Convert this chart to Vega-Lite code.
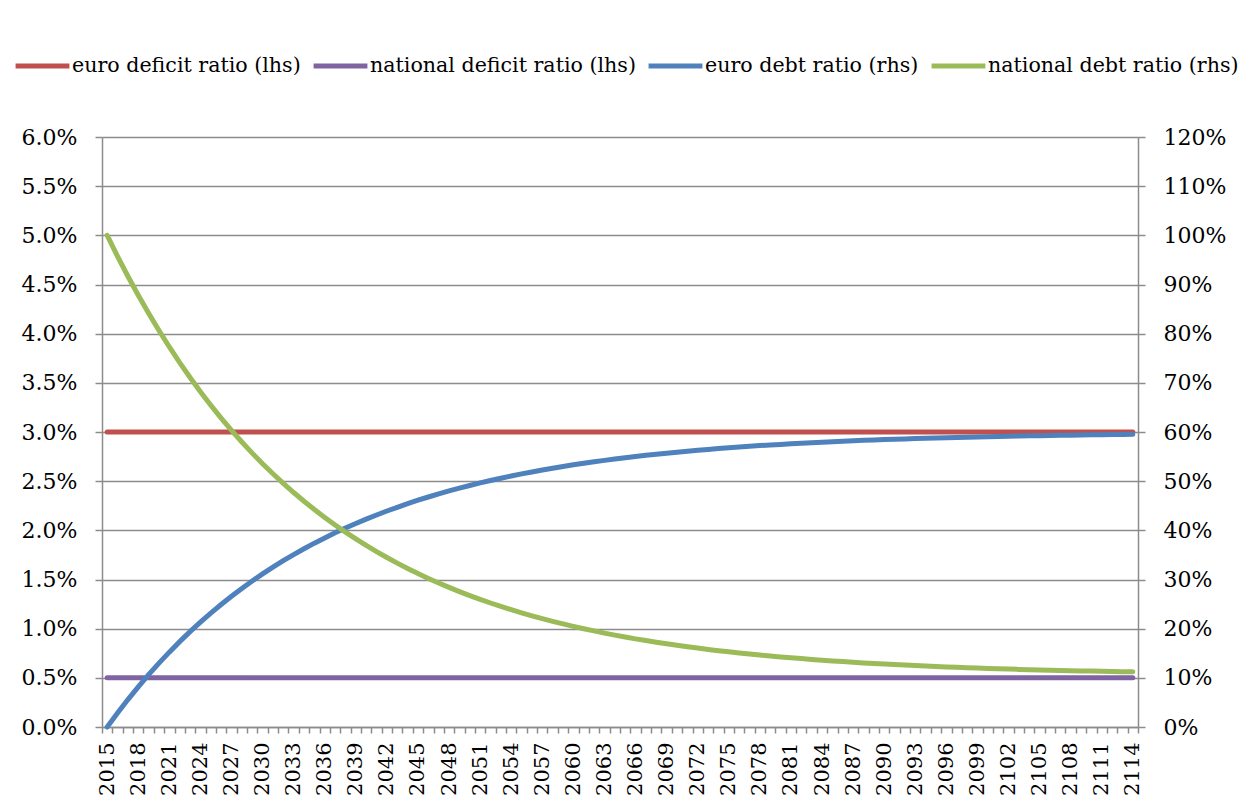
{
  "$schema": "https://vega.github.io/schema/vega-lite/v6.json",
  "width": 1036,
  "height": 590,
  "autosize": {"type": "none"},
  "padding": {"left": 102, "top": 137, "right": 117, "bottom": 84},
  "background": "white",
  "config": {
    "view": {"stroke": null},
    "font": "DejaVu Serif",
    "axis": {
      "labelFont": "DejaVu Serif",
      "labelFontSize": 22,
      "labelColor": "black",
      "domainColor": "#8c8c8c",
      "domainWidth": 1.5,
      "tickColor": "#8c8c8c",
      "tickWidth": 1.5,
      "gridColor": "#8c8c8c",
      "gridWidth": 1.5,
      "title": null
    },
    "legend": {
      "labelFont": "DejaVu Serif"
    }
  },
  "data": {"values": [
    {"year":2015,"ed":0.03,"nd":0.005,"eb":0,"nb":1},
    {"year":2016,"ed":0.03,"nd":0.005,"eb":0.0286,"nb":0.9574},
    {"year":2017,"ed":0.03,"nd":0.005,"eb":0.0558,"nb":0.9168},
    {"year":2018,"ed":0.03,"nd":0.005,"eb":0.0817,"nb":0.8781},
    {"year":2019,"ed":0.03,"nd":0.005,"eb":0.1064,"nb":0.8413},
    {"year":2020,"ed":0.03,"nd":0.005,"eb":0.1299,"nb":0.8063},
    {"year":2021,"ed":0.03,"nd":0.005,"eb":0.1523,"nb":0.7729},
    {"year":2022,"ed":0.03,"nd":0.005,"eb":0.1736,"nb":0.7411},
    {"year":2023,"ed":0.03,"nd":0.005,"eb":0.1939,"nb":0.7108},
    {"year":2024,"ed":0.03,"nd":0.005,"eb":0.2132,"nb":0.6819},
    {"year":2025,"ed":0.03,"nd":0.005,"eb":0.2317,"nb":0.6545},
    {"year":2026,"ed":0.03,"nd":0.005,"eb":0.2492,"nb":0.6283},
    {"year":2027,"ed":0.03,"nd":0.005,"eb":0.2659,"nb":0.6034},
    {"year":2028,"ed":0.03,"nd":0.005,"eb":0.2818,"nb":0.5796},
    {"year":2029,"ed":0.03,"nd":0.005,"eb":0.2970,"nb":0.5570},
    {"year":2030,"ed":0.03,"nd":0.005,"eb":0.3114,"nb":0.5355},
    {"year":2031,"ed":0.03,"nd":0.005,"eb":0.3251,"nb":0.5150},
    {"year":2032,"ed":0.03,"nd":0.005,"eb":0.3382,"nb":0.4955},
    {"year":2033,"ed":0.03,"nd":0.005,"eb":0.3507,"nb":0.4769},
    {"year":2034,"ed":0.03,"nd":0.005,"eb":0.3626,"nb":0.4592},
    {"year":2035,"ed":0.03,"nd":0.005,"eb":0.3739,"nb":0.4423},
    {"year":2036,"ed":0.03,"nd":0.005,"eb":0.3846,"nb":0.4263},
    {"year":2037,"ed":0.03,"nd":0.005,"eb":0.3949,"nb":0.4110},
    {"year":2038,"ed":0.03,"nd":0.005,"eb":0.4047,"nb":0.3964},
    {"year":2039,"ed":0.03,"nd":0.005,"eb":0.4140,"nb":0.3825},
    {"year":2040,"ed":0.03,"nd":0.005,"eb":0.4228,"nb":0.3693},
    {"year":2041,"ed":0.03,"nd":0.005,"eb":0.4313,"nb":0.3567},
    {"year":2042,"ed":0.03,"nd":0.005,"eb":0.4393,"nb":0.3447},
    {"year":2043,"ed":0.03,"nd":0.005,"eb":0.4469,"nb":0.3333},
    {"year":2044,"ed":0.03,"nd":0.005,"eb":0.4542,"nb":0.3224},
    {"year":2045,"ed":0.03,"nd":0.005,"eb":0.4612,"nb":0.3121},
    {"year":2046,"ed":0.03,"nd":0.005,"eb":0.4678,"nb":0.3022},
    {"year":2047,"ed":0.03,"nd":0.005,"eb":0.4741,"nb":0.2928},
    {"year":2048,"ed":0.03,"nd":0.005,"eb":0.4801,"nb":0.2839},
    {"year":2049,"ed":0.03,"nd":0.005,"eb":0.4858,"nb":0.2754},
    {"year":2050,"ed":0.03,"nd":0.005,"eb":0.4912,"nb":0.2673},
    {"year":2051,"ed":0.03,"nd":0.005,"eb":0.4964,"nb":0.2595},
    {"year":2052,"ed":0.03,"nd":0.005,"eb":0.5013,"nb":0.2522},
    {"year":2053,"ed":0.03,"nd":0.005,"eb":0.5060,"nb":0.2452},
    {"year":2054,"ed":0.03,"nd":0.005,"eb":0.5105,"nb":0.2385},
    {"year":2055,"ed":0.03,"nd":0.005,"eb":0.5148,"nb":0.2321},
    {"year":2056,"ed":0.03,"nd":0.005,"eb":0.5188,"nb":0.2261},
    {"year":2057,"ed":0.03,"nd":0.005,"eb":0.5227,"nb":0.2203},
    {"year":2058,"ed":0.03,"nd":0.005,"eb":0.5264,"nb":0.2148},
    {"year":2059,"ed":0.03,"nd":0.005,"eb":0.5299,"nb":0.2096},
    {"year":2060,"ed":0.03,"nd":0.005,"eb":0.5332,"nb":0.2046},
    {"year":2061,"ed":0.03,"nd":0.005,"eb":0.5364,"nb":0.1999},
    {"year":2062,"ed":0.03,"nd":0.005,"eb":0.5394,"nb":0.1954},
    {"year":2063,"ed":0.03,"nd":0.005,"eb":0.5423,"nb":0.1910},
    {"year":2064,"ed":0.03,"nd":0.005,"eb":0.5451,"nb":0.1869},
    {"year":2065,"ed":0.03,"nd":0.005,"eb":0.5477,"nb":0.1830},
    {"year":2066,"ed":0.03,"nd":0.005,"eb":0.5502,"nb":0.1793},
    {"year":2067,"ed":0.03,"nd":0.005,"eb":0.5525,"nb":0.1758},
    {"year":2068,"ed":0.03,"nd":0.005,"eb":0.5548,"nb":0.1724},
    {"year":2069,"ed":0.03,"nd":0.005,"eb":0.5570,"nb":0.1692},
    {"year":2070,"ed":0.03,"nd":0.005,"eb":0.5590,"nb":0.1662},
    {"year":2071,"ed":0.03,"nd":0.005,"eb":0.5610,"nb":0.1632},
    {"year":2072,"ed":0.03,"nd":0.005,"eb":0.5628,"nb":0.1605},
    {"year":2073,"ed":0.03,"nd":0.005,"eb":0.5646,"nb":0.1578},
    {"year":2074,"ed":0.03,"nd":0.005,"eb":0.5663,"nb":0.1553},
    {"year":2075,"ed":0.03,"nd":0.005,"eb":0.5679,"nb":0.1529},
    {"year":2076,"ed":0.03,"nd":0.005,"eb":0.5694,"nb":0.1506},
    {"year":2077,"ed":0.03,"nd":0.005,"eb":0.5709,"nb":0.1485},
    {"year":2078,"ed":0.03,"nd":0.005,"eb":0.5723,"nb":0.1464},
    {"year":2079,"ed":0.03,"nd":0.005,"eb":0.5736,"nb":0.1444},
    {"year":2080,"ed":0.03,"nd":0.005,"eb":0.5748,"nb":0.1425},
    {"year":2081,"ed":0.03,"nd":0.005,"eb":0.5760,"nb":0.1408},
    {"year":2082,"ed":0.03,"nd":0.005,"eb":0.5772,"nb":0.1391},
    {"year":2083,"ed":0.03,"nd":0.005,"eb":0.5783,"nb":0.1374},
    {"year":2084,"ed":0.03,"nd":0.005,"eb":0.5793,"nb":0.1359},
    {"year":2085,"ed":0.03,"nd":0.005,"eb":0.5803,"nb":0.1344},
    {"year":2086,"ed":0.03,"nd":0.005,"eb":0.5812,"nb":0.1330},
    {"year":2087,"ed":0.03,"nd":0.005,"eb":0.5821,"nb":0.1317},
    {"year":2088,"ed":0.03,"nd":0.005,"eb":0.5830,"nb":0.1304},
    {"year":2089,"ed":0.03,"nd":0.005,"eb":0.5838,"nb":0.1292},
    {"year":2090,"ed":0.03,"nd":0.005,"eb":0.5846,"nb":0.1280},
    {"year":2091,"ed":0.03,"nd":0.005,"eb":0.5853,"nb":0.1270},
    {"year":2092,"ed":0.03,"nd":0.005,"eb":0.5860,"nb":0.1259},
    {"year":2093,"ed":0.03,"nd":0.005,"eb":0.5867,"nb":0.1249},
    {"year":2094,"ed":0.03,"nd":0.005,"eb":0.5873,"nb":0.1240},
    {"year":2095,"ed":0.03,"nd":0.005,"eb":0.5879,"nb":0.1231},
    {"year":2096,"ed":0.03,"nd":0.005,"eb":0.5885,"nb":0.1222},
    {"year":2097,"ed":0.03,"nd":0.005,"eb":0.5890,"nb":0.1214},
    {"year":2098,"ed":0.03,"nd":0.005,"eb":0.5895,"nb":0.1206},
    {"year":2099,"ed":0.03,"nd":0.005,"eb":0.5900,"nb":0.1199},
    {"year":2100,"ed":0.03,"nd":0.005,"eb":0.5905,"nb":0.1192},
    {"year":2101,"ed":0.03,"nd":0.005,"eb":0.5910,"nb":0.1185},
    {"year":2102,"ed":0.03,"nd":0.005,"eb":0.5914,"nb":0.1178},
    {"year":2103,"ed":0.03,"nd":0.005,"eb":0.5918,"nb":0.1172},
    {"year":2104,"ed":0.03,"nd":0.005,"eb":0.5922,"nb":0.1166},
    {"year":2105,"ed":0.03,"nd":0.005,"eb":0.5926,"nb":0.1161},
    {"year":2106,"ed":0.03,"nd":0.005,"eb":0.5929,"nb":0.1156},
    {"year":2107,"ed":0.03,"nd":0.005,"eb":0.5933,"nb":0.1151},
    {"year":2108,"ed":0.03,"nd":0.005,"eb":0.5936,"nb":0.1146},
    {"year":2109,"ed":0.03,"nd":0.005,"eb":0.5939,"nb":0.1141},
    {"year":2110,"ed":0.03,"nd":0.005,"eb":0.5942,"nb":0.1137},
    {"year":2111,"ed":0.03,"nd":0.005,"eb":0.5945,"nb":0.1133},
    {"year":2112,"ed":0.03,"nd":0.005,"eb":0.5947,"nb":0.1129},
    {"year":2113,"ed":0.03,"nd":0.005,"eb":0.5950,"nb":0.1125},
    {"year":2114,"ed":0.03,"nd":0.005,"eb":0.5952,"nb":0.1122}
  ]},
  "encoding": {
    "x": {
      "field": "year",
      "type": "ordinal",
      "bandPosition": 0.5,
      "scale": {"type": "band", "paddingInner": 0, "paddingOuter": 0},
      "axis": {
        "tickBand": "extent",
        "tickSize": 6,
        "labelAngle": -90,
        "labelFontSize": 21,
        "labelPadding": 9,
        "labelExpr": "(datum.value - 2015) % 3 == 0 ? datum.label : ''",
        "grid": false
      }
    }
  },
  "layer": [
    {
      "transform": [{"fold": ["ed", "nd"], "as": ["series", "value"]}],
      "mark": {"type": "line", "strokeWidth": 5, "strokeCap": "round"},
      "encoding": {
        "y": {
          "field": "value",
          "type": "quantitative",
          "scale": {"domain": [0, 0.06], "nice": false},
          "axis": {
            "orient": "left",
            "format": ".1%",
            "values": [0, 0.005, 0.01, 0.015, 0.02, 0.025, 0.03, 0.035, 0.04, 0.045, 0.05, 0.055, 0.06],
            "grid": true,
            "tickSize": 7,
            "labelPadding": 18
          }
        },
        "color": {
          "field": "series",
          "type": "nominal",
          "scale": {"domain": ["ed", "nd", "eb", "nb"], "range": ["#C0504D", "#8064A2", "#4F81BD", "#9BBB59"]},
          "legend": {
            "orient": "none",
            "legendX": -89,
            "legendY": -101,
            "direction": "horizontal",
            "columns": 4,
            "title": null,
            "symbolType": "stroke",
            "symbolSize": 2900,
            "symbolStrokeWidth": 5,
            "labelFontSize": 20.6,
            "labelColor": "black",
            "labelOffset": 0,
            "columnPadding": 2,
            "labelLimit": 0,
            "labelExpr": "{'ed': 'euro deficit ratio (lhs)', 'nd': 'national deficit ratio (lhs)', 'eb': 'euro debt ratio (rhs)', 'nb': 'national debt ratio (rhs)'}[datum.label]"
          }
        }
      }
    },
    {
      "transform": [{"fold": ["eb", "nb"], "as": ["series", "value"]}],
      "mark": {"type": "line", "strokeWidth": 5, "strokeCap": "round"},
      "encoding": {
        "y": {
          "field": "value",
          "type": "quantitative",
          "scale": {"domain": [0, 1.2], "nice": false},
          "axis": {
            "orient": "right",
            "format": ".0%",
            "values": [0, 0.1, 0.2, 0.3, 0.4, 0.5, 0.6, 0.7, 0.8, 0.9, 1.0, 1.1, 1.2],
            "grid": false,
            "tickSize": 7,
            "labelPadding": 18
          }
        },
        "color": {"field": "series", "type": "nominal"}
      }
    }
  ],
  "resolve": {"scale": {"y": "independent"}}
}
